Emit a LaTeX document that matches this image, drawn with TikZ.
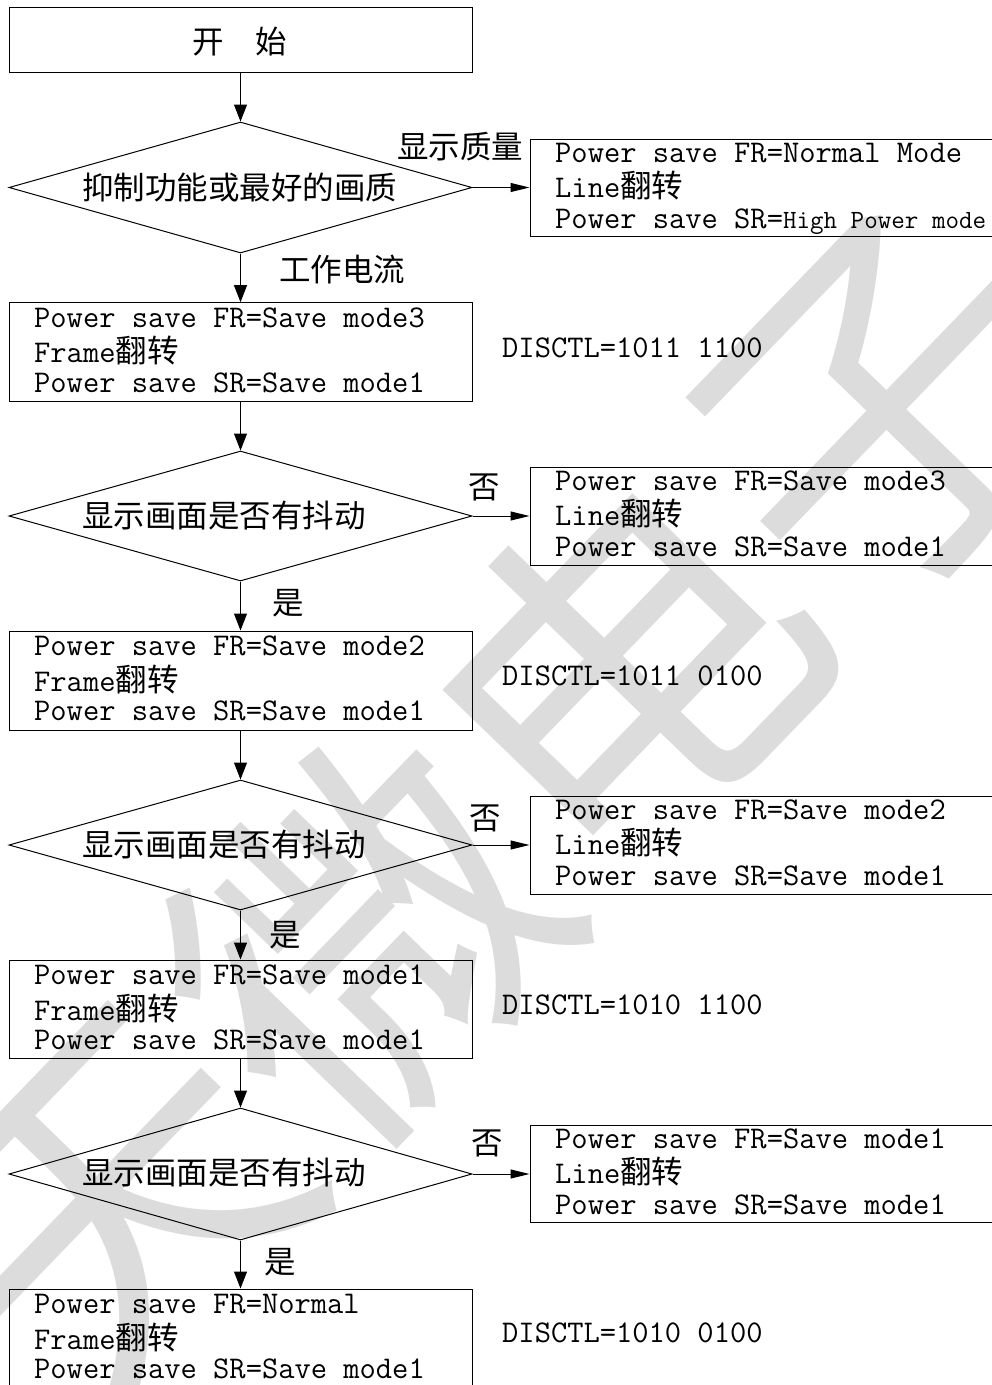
\documentclass[tikz,border=0pt]{standalone}
\usepackage{fontspec}
\setmainfont{Latin Modern Mono}
\newfontfamily\zhfont{Noto Sans CJK SC}
\newfontfamily\wmfont{Noto Sans CJK SC}
\usetikzlibrary{shapes.geometric,arrows.meta}
\definecolor{wmgray}{RGB}{220,220,220}
\newcommand\zh[1]{{\zhfont\fontsize{31.5}{34}\selectfont #1}}
\newcommand\smalllat[1]{{\fontsize{26.3}{28}\selectfont #1}}
\begin{document}
\begin{tikzpicture}[x=1pt,y=-1pt,
  box/.style={draw, line width=1pt, rectangle, inner sep=0pt, minimum width=463pt},
  rbox/.style={draw, line width=1pt, rectangle, inner sep=0pt, minimum width=470pt},
  dia/.style={draw, line width=1pt, diamond, inner sep=0pt, minimum width=463pt},
  txt/.style={inner sep=0pt, anchor=base west, font=\fontsize{31.6}{34}\selectfont},
  lbl/.style={inner sep=0pt, font=\zhfont\fontsize{31.5}{34}\selectfont},
  varr/.style={-{Triangle[length=17pt,width=13pt]}, line width=1pt},
  harr/.style={-{Triangle[length=19pt,width=9pt]}, line width=1pt}]
\useasboundingbox (0,0) rectangle (992,1385);
\clip (0,0) rectangle (992,1385);
% watermark
\node[inner sep=0pt, rotate=46, text=wmgray, font=\wmfont\fontsize{370}{370}\selectfont] (wm) at (495,805) {天微电子};
% left column
\node[box, minimum height=65pt] (start) at (240.5,39.5) {};
\node[lbl] (starttxt) at (240,42) {开　始};
\node[dia, minimum height=131pt] (d1) at (240.5,187.5) {};
\node[lbl, anchor=west] (d1t) at (82,187) {抑制功能或最好的画质};
\node[box, minimum height=98.3pt] (b2) at (240.5,351.85) {};
\node[dia, minimum height=130pt] (d2) at (240.5,516) {};
\node[lbl, anchor=west] (d2t) at (82,516) {显示画面是否有抖动};
\node[box, minimum height=99pt] (b3) at (240.5,680.5) {};
\node[dia, minimum height=130pt] (d3) at (240.5,845) {};
\node[lbl, anchor=west] (d3t) at (82,845) {显示画面是否有抖动};
\node[box, minimum height=98pt] (b4) at (240.5,1009) {};
\node[dia, minimum height=132pt] (d4) at (240.5,1174) {};
\node[lbl, anchor=west] (d4t) at (82,1173) {显示画面是否有抖动};
\node[box, minimum height=99pt] (b5) at (240.5,1338.5) {};
% right column
\node[rbox, minimum height=97pt] (r1) at (765,187.5) {};
\node[rbox, minimum height=98pt] (r2) at (765,516) {};
\node[rbox, minimum height=98pt] (r3) at (765,845) {};
\node[rbox, minimum height=97pt] (r4) at (765,1173.5) {};
% box texts left
\node[txt] (b2a) at (34,327.2) {Power save FR=Save mode3};
\node[txt] (b2b) at (34,362.7) {Frame\zh{翻转}};
\node[txt] (b2c) at (34,392.2) {Power save SR=Save mode1};
\node[txt] (b3a) at (34,655.5) {Power save FR=Save mode2};
\node[txt] (b3b) at (34,691) {Frame\zh{翻转}};
\node[txt] (b3c) at (34,720.5) {Power save SR=Save mode1};
\node[txt] (b4a) at (34,984.5) {Power save FR=Save mode1};
\node[txt] (b4b) at (34,1020) {Frame\zh{翻转}};
\node[txt] (b4c) at (34,1049.5) {Power save SR=Save mode1};
\node[txt] (b5a) at (34,1313.5) {Power save FR=Normal};
\node[txt] (b5b) at (34,1349) {Frame\zh{翻转}};
\node[txt] (b5c) at (34,1378.5) {Power save SR=Save mode1};
% box texts right
\node[txt] (r1a) at (555,162.5) {Power save FR=Normal Mode};
\node[txt] (r1b) at (555,197.5) {Line\zh{翻转}};
\node[txt] (r1c) at (555,228) {Power save SR=\smalllat{High Power mode}};
\node[txt] (r2a) at (555,490.5) {Power save FR=Save mode3};
\node[txt] (r2b) at (555,525.5) {Line\zh{翻转}};
\node[txt] (r2c) at (555,556) {Power save SR=Save mode1};
\node[txt] (r3a) at (555,819.5) {Power save FR=Save mode2};
\node[txt] (r3b) at (555,854.5) {Line\zh{翻转}};
\node[txt] (r3c) at (555,885) {Power save SR=Save mode1};
\node[txt] (r4a) at (555,1148.5) {Power save FR=Save mode1};
\node[txt] (r4b) at (555,1183.5) {Line\zh{翻转}};
\node[txt] (r4c) at (555,1214) {Power save SR=Save mode1};
% DISCTL
\node[txt] (c2) at (502,357) {DISCTL=1011 1100};
\node[txt] (c3) at (502,685) {DISCTL=1011 0100};
\node[txt] (c4) at (502,1014) {DISCTL=1010 1100};
\node[txt] (c5) at (502,1342) {DISCTL=1010 0100};
% labels
\node[lbl] (l1) at (460,147) {显示质量};
\node[lbl] (l2) at (342,270) {工作电流};
\node[lbl] (n2) at (484,487) {否};
\node[lbl] (n3) at (485,818) {否};
\node[lbl] (n4) at (487,1143) {否};
\node[lbl] (y2) at (288,603) {是};
\node[lbl] (y3) at (285,935) {是};
\node[lbl] (y4) at (280,1262) {是};
% connectors
\draw[varr] (start.south) -- (d1.north);
\draw[varr] (d1.south) -- (b2.north);
\draw[varr] (b2.south) -- (d2.north);
\draw[varr] (d2.south) -- (b3.north);
\draw[varr] (b3.south) -- (d3.north);
\draw[varr] (d3.south) -- (b4.north);
\draw[varr] (b4.south) -- (d4.north);
\draw[varr] (d4.south) -- (b5.north);
\draw[harr] (d1.east) -- (d1.east -| r1.west);
\draw[harr] (d2.east) -- (d2.east -| r2.west);
\draw[harr] (d3.east) -- (d3.east -| r3.west);
\draw[harr] (d4.east) -- (d4.east -| r4.west);
\end{tikzpicture}
\end{document}
